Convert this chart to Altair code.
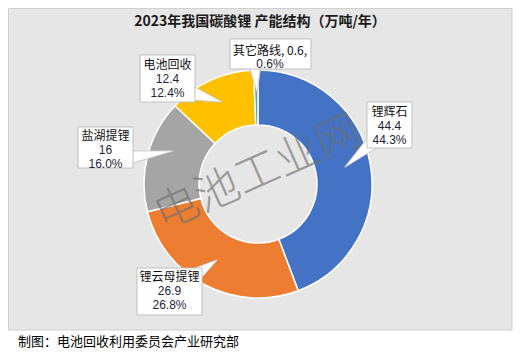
import altair as alt
import pandas as pd

# ---- data ----
categories = ["锂辉石", "锂云母提锂", "盐湖提锂", "电池回收", "其它路线"]
values = [44.4, 26.9, 16, 12.4, 0.6]
value_labels = ["44.4", "26.9", "16", "12.4", "0.6"]
pct_labels = ["44.3%", "26.8%", "16.0%", "12.4%", "0.6%"]
colors = ["#4472C4", "#ED7D31", "#A5A5A5", "#FFC000", "#5B9BD5"]

title_text = "2023年我国碳酸锂 产能结构（万吨/年）"
footer_text = "制图：电池回收利用委员会产业研究部"
watermark_text = "电池工业网"

# ---- layout (pixel units relative to donut centre, y up) ----
W, H = 505, 343
xs = alt.Scale(domain=[-250, 255], zero=False, nice=False)
ys = alt.Scale(domain=[-167, 176], zero=False, nice=False)

# callout boxes: u1, u2, v1, v2
box_u1 = [109, -121, -180, -118, -28]
box_u2 = [154, -56, -125, -63, 53]
box_v1 = [82, -84, 57, 129, 145]
box_v2 = [36, -131, 16, 82, 115]
# label text centre x and line y's
lab_u = [131.5, -88.5, -152.5, -90.5, 12]
lab_v = [[72, 58, 44], [-93, -107, -121], [48, 34, 20], [119, 105, 91], [133, 120]]
# pointers: base (u,v), tip (u,v), base width
ptr_base = [(115, 42), (-63, -91), (-133, 26), (-70, 92), (-3, 118)]
ptr_tip = [(87, 17), (-41, -76), (-85, 33), (-36, 82), (-1, 92)]
ptr_w = [14, 14, 14, 16, 12]

FONT = "Noto Sans CJK SC"
NUM_FONT = "Liberation Sans"

# ---- frames ----
df = pd.DataFrame({"cat": categories, "value": values, "idx": list(range(len(values)))})

bg = pd.DataFrame({"u1": [-249.5], "u2": [254], "v1": [175.5], "v2": [-146]})
boxes = pd.DataFrame({"u1": box_u1, "u2": box_u2, "v1": box_v1, "v2": box_v2})

ptr_rows = []
for i in range(len(categories)):
    ptr_rows.append({"id": i, "o": 0, "u": ptr_base[i][0], "v": ptr_base[i][1], "w": ptr_w[i]})
    ptr_rows.append({"id": i, "o": 1, "u": ptr_tip[i][0], "v": ptr_tip[i][1], "w": 0.5})
ptrs = pd.DataFrame(ptr_rows)

name_rows, num_rows = [], []
for i, c in enumerate(categories):
    if len(lab_v[i]) == 3:
        name_rows.append({"u": lab_u[i], "v": lab_v[i][0], "t": c})
        num_rows.append({"u": lab_u[i], "v": lab_v[i][1], "t": value_labels[i]})
        num_rows.append({"u": lab_u[i], "v": lab_v[i][2], "t": pct_labels[i]})
    else:
        name_rows.append({"u": lab_u[i], "v": lab_v[i][0], "t": f"{c}, {value_labels[i]},"})
        num_rows.append({"u": lab_u[i], "v": lab_v[i][1], "t": pct_labels[i]})
names = pd.DataFrame(name_rows)
nums = pd.DataFrame(num_rows)

# ---- layers ----
background = alt.Chart(bg).mark_rect(fill="#E7E6E6", stroke="#D0CECE", strokeWidth=1).encode(
    x=alt.X("u1:Q", scale=xs, axis=None), x2="u2:Q",
    y=alt.Y("v1:Q", scale=ys, axis=None), y2="v2:Q",
)

donut = alt.Chart(df).mark_arc(innerRadius=59, outerRadius=114, stroke="white", strokeWidth=1.5).encode(
    x=alt.X(datum=0, scale=xs, axis=None),
    y=alt.Y(datum=0, scale=ys, axis=None),
    theta=alt.Theta("value:Q", stack=True),
    order=alt.Order("idx:Q"),
    color=alt.Color("cat:N", scale=alt.Scale(domain=categories, range=colors), legend=None),
)

watermark = alt.Chart(pd.DataFrame({"u": [0], "v": [10], "t": [watermark_text]})).mark_text(
    font=FONT, fontSize=44, angle=336, color="#6F6F6F", opacity=0.65, fontWeight=300,
    align="center", baseline="middle",
).encode(x=alt.X("u:Q", scale=xs, axis=None), y=alt.Y("v:Q", scale=ys, axis=None), text="t:N")

pointers = alt.Chart(ptrs).mark_trail(fill="white", stroke="#BFBFBF", strokeWidth=0.8).encode(
    x=alt.X("u:Q", scale=xs, axis=None), y=alt.Y("v:Q", scale=ys, axis=None),
    size=alt.Size("w:Q", scale=None, legend=None),
    detail="id:N", order="o:Q",
)

box_layer = alt.Chart(boxes).mark_rect(fill="white", stroke="#BFBFBF", strokeWidth=1).encode(
    x=alt.X("u1:Q", scale=xs, axis=None), x2="u2:Q",
    y=alt.Y("v1:Q", scale=ys, axis=None), y2="v2:Q",
)

name_layer = alt.Chart(names).mark_text(
    font=FONT, fontSize=12, align="center", baseline="middle", color="#111111",
).encode(x=alt.X("u:Q", scale=xs, axis=None), y=alt.Y("v:Q", scale=ys, axis=None), text="t:N")

num_layer = alt.Chart(nums).mark_text(
    font=NUM_FONT, fontSize=12, align="center", baseline="middle", color="#1f1f3a",
).encode(x=alt.X("u:Q", scale=xs, axis=None), y=alt.Y("v:Q", scale=ys, axis=None), text="t:N")

title = alt.Chart(pd.DataFrame({"u": [2], "v": [162], "t": [title_text]})).mark_text(
    font=FONT, fontSize=14, fontWeight="bold", color="#1a1a1a", align="center", baseline="middle",
).encode(x=alt.X("u:Q", scale=xs, axis=None), y=alt.Y("v:Q", scale=ys, axis=None), text="t:N")

footer = alt.Chart(pd.DataFrame({"u": [-240], "v": [-158], "t": [footer_text]})).mark_text(
    font=FONT, fontSize=13, color="#000000", align="left", baseline="middle",
).encode(x=alt.X("u:Q", scale=xs, axis=None), y=alt.Y("v:Q", scale=ys, axis=None), text="t:N")

chart = alt.layer(
    background, donut, watermark, pointers, box_layer, name_layer, num_layer, title, footer
).properties(
    width=W, height=H, padding=0, autosize=alt.AutoSizeParams(type="none"),
    background="white",
).configure_view(stroke=None)

chart.save("out.html", embed_options={"renderer": "svg", "actions": False})
